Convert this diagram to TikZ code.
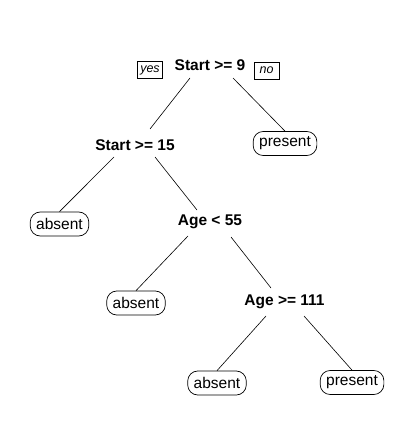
\documentclass[tikz,border=0pt]{standalone}
\usepackage{fontspec}
\setmainfont{Liberation Sans}
\begin{document}
\begin{tikzpicture}[x=1pt,y=-1pt,
  splitlab/.style={inner sep=0pt,font=\fontsize{15.5}{18}\selectfont\bfseries},
  leafbox/.style={draw,line width=0.7pt,rounded corners=10pt,minimum height=24pt,inner xsep=6pt,inner ysep=0pt,font=\fontsize{15.5}{18}\selectfont},
  ynbox/.style={draw,line width=0.7pt,minimum height=17pt,minimum width=25pt,inner xsep=3pt,inner ysep=0pt,font=\fontsize{12.5}{15}\selectfont\itshape},
  branch/.style={line width=0.6pt}]
\useasboundingbox (0,0) rectangle (415,446);
\fill[white] (0,0) rectangle (415,446);
% split nodes
\node[splitlab] (root) at (210,65) {Start >= 9};
\node[splitlab] (s15) at (135,145) {Start >= 15};
\node[splitlab] (a55) at (210,222) {Age < 55};
\node[splitlab] (a111) at (284.5,302) {Age >= 111};
% yes / no
\node[ynbox] (yes) at (150,70) {yes};
\node[ynbox] (no) at (266.5,70.5) {no};
% leaves
\node[leafbox] (l1) at (59.5,224) {absent};
\node[leafbox] (p1) at (285,143.5) {present};
\node[leafbox] (l2) at (136,303) {absent};
\node[leafbox] (l3) at (217,383) {absent};
\node[leafbox] (p2) at (352,382.5) {present};
% branches
\draw[branch] ([shift={(-20,13)}]root.center) -- ([shift={(15,-16)}]s15.center);
\draw[branch] ([shift={(23,13)}]root.center) -- (p1.north);
\draw[branch] ([shift={(-21,12)}]s15.center) -- (l1.north);
\draw[branch] ([shift={(20,12)}]s15.center) -- ([shift={(-13,-12)}]a55.center);
\draw[branch] ([shift={(-22,14)}]a55.center) -- (l2.north);
\draw[branch] ([shift={(21,15)}]a55.center) -- ([shift={(-13.5,-14)}]a111.center);
\draw[branch] ([shift={(-18.5,14)}]a111.center) -- (l3.north);
\draw[branch] ([shift={(19.5,14)}]a111.center) -- (p2.north);
\end{tikzpicture}
\end{document}
